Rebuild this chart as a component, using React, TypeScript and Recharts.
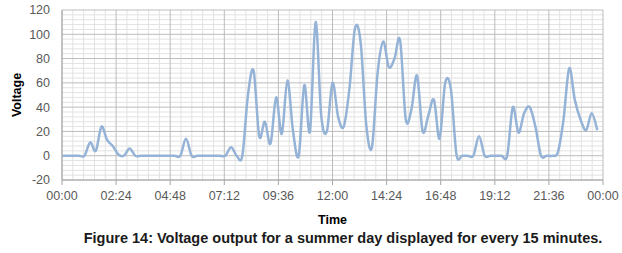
import React from "react";
import {
  CartesianGrid,
  Label,
  Line,
  LineChart,
  XAxis,
  YAxis,
} from "recharts";

// one reading every 15 minutes, 00:00 .. 23:45
const SAMPLE_MINUTES = 15;

const voltage = [
  0, 0, 0, 0, 0, 11, 4, 24, 13, 8, 1, 0, 6, 0, 0, 0,
  0, 0, 0, 0, 0, 0, 14, 0, 0, 0, 0, 0, 0, 0, 7, 0,
  0, 50, 70, 16, 28, 10, 48, 18, 62, 20, 0, 58, 20, 110, 33, 20,
  60, 32, 24, 55, 105, 93, 25, 7, 68, 94, 73, 80, 95, 30, 38, 66,
  20, 33, 46, 14, 60, 55, 1, 0, 0, 0, 16, 0, 0, 0, 0, 0,
  40, 19, 35, 40, 24, 0, 0, 0, 3, 30, 72, 46, 30, 21, 35, 21,
];

const X_DOMAIN = [0, 1440];
const Y_DOMAIN = [-20, 120];
const xTicks = [0, 144, 288, 432, 576, 720, 864, 1008, 1152, 1296, 1440];
const xMinorTicks = [
  28.8, 57.6, 86.4, 115.2, 172.8, 201.6, 230.4, 259.2, 316.8,
  345.6, 374.4, 403.2, 460.8, 489.6, 518.4, 547.2, 604.8, 633.6,
  662.4, 691.2, 748.8, 777.6, 806.4, 835.2, 892.8, 921.6, 950.4,
  979.2, 1036.8, 1065.6, 1094.4, 1123.2, 1180.8, 1209.6, 1238.4,
  1267.2, 1324.8, 1353.6, 1382.4, 1411.2,
];
const yTicks = [-20, 0, 20, 40, 60, 80, 100, 120];
const yMinorTicks = [
  -16, -12, -8, -4, 4, 8, 12, 16, 24, 28, 32, 36, 44, 48, 52,
  56, 64, 68, 72, 76, 84, 88, 92, 96, 104, 108, 112, 116,
];

const data = voltage.map((v, i) => ({ t: i * SAMPLE_MINUTES, v }));

const fmtTime = (m: number) => {
  const h = Math.floor(m / 60) % 24;
  const mm = Math.round(m % 60);
  return `${String(h).padStart(2, "0")}:${String(mm).padStart(2, "0")}`;
};

// Excel-like smoothed line (Catmull-Rom through every point)
const excelSmooth = (ctx: any) => {
  let pts: number[][] = [];
  return {
    areaStart() {},
    areaEnd() {},
    lineStart() {
      pts = [];
    },
    point(x: number, y: number) {
      pts.push([+x, +y]);
    },
    lineEnd() {
      if (!pts.length) return;
      ctx.moveTo(pts[0][0], pts[0][1]);
      for (let i = 0; i < pts.length - 1; i++) {
        const p0 = pts[Math.max(i - 1, 0)];
        const p1 = pts[i];
        const p2 = pts[i + 1];
        const p3 = pts[Math.min(i + 2, pts.length - 1)];
        ctx.bezierCurveTo(
          p1[0] + (p2[0] - p0[0]) / 6,
          p1[1] + (p2[1] - p0[1]) / 6,
          p2[0] - (p3[0] - p1[0]) / 6,
          p2[1] - (p3[1] - p1[1]) / 6,
          p2[0],
          p2[1]
        );
      }
    },
  };
};

// use the axis scale when it is handed over, else map within the plot box
const toPx = (axis: any, v: number, fallback: () => number) => {
  const s = axis?.scale;
  if (typeof s === "function") return s(v);
  if (s && typeof s.map === "function") return s.map(v);
  return fallback();
};
const minorX = ({ xAxis, offset }: any) =>
  xMinorTicks.map((t) =>
    toPx(xAxis, t, () => offset.left + ((t - X_DOMAIN[0]) / (X_DOMAIN[1] - X_DOMAIN[0])) * offset.width)
  );
const minorY = ({ yAxis, offset }: any) =>
  yMinorTicks.map((t) =>
    toPx(yAxis, t, () => offset.top + ((Y_DOMAIN[1] - t) / (Y_DOMAIN[1] - Y_DOMAIN[0])) * offset.height)
  );

const font = "Liberation Sans, Arial, sans-serif";
const tickStyle = { fontFamily: font, fontSize: 12.5, fill: "#595959" };

export default function App() {
  return (
    <div style={{ position: "relative", width: 622, height: 253, background: "#fff" }}>
      <style>{"body{margin:0}"}</style>
      <LineChart
        width={622}
        height={230}
        data={data}
        margin={{ top: 10, right: 19, bottom: 0, left: 0 }}
      >
        <CartesianGrid
          stroke="#e2e2e2"
          verticalCoordinatesGenerator={minorX}
          horizontalCoordinatesGenerator={minorY}
        />
        <CartesianGrid stroke="#bcbcbc" />
        <XAxis
          dataKey="t"
          type="number"
          domain={X_DOMAIN}
          ticks={xTicks}
          interval={0}
          tickFormatter={fmtTime}
          tick={tickStyle}
          tickSize={5}
          tickMargin={6}
          stroke="#a6a6a6"
          height={50}
        >
          <Label
            value="Time"
            position="insideBottom"
            offset={6}
            style={{ fontFamily: font, fontSize: 12.5, fontWeight: "bold", fill: "#000" }}
          />
        </XAxis>
        <YAxis
          type="number"
          domain={Y_DOMAIN}
          ticks={yTicks}
          interval={0}
          tick={tickStyle}
          tickLine={false}
          tickMargin={6}
          stroke="#a6a6a6"
          width={62}
        >
          <Label
            value="Voltage"
            angle={-90}
            position="insideLeft"
            offset={17}
            style={{ textAnchor: "middle", fontFamily: font, fontSize: 12.5, fontWeight: "bold", fill: "#000" }}
          />
        </YAxis>
        <Line
          dataKey="v"
          type={excelSmooth as any}
          stroke="#95b3d7"
          strokeWidth={2.5}
          dot={false}
          activeDot={false}
          isAnimationActive={false}
        />
      </LineChart>
      <div
        style={{
          position: "absolute",
          top: 230,
          left: 343,
          transform: "translateX(-50%)",
          whiteSpace: "nowrap",
          fontFamily: font,
          fontWeight: "bold",
          fontSize: 14.5,
          color: "#1a1a1a",
        }}
      >
        Figure 14: Voltage output for a summer day displayed for every 15 minutes.
      </div>
    </div>
  );
}
